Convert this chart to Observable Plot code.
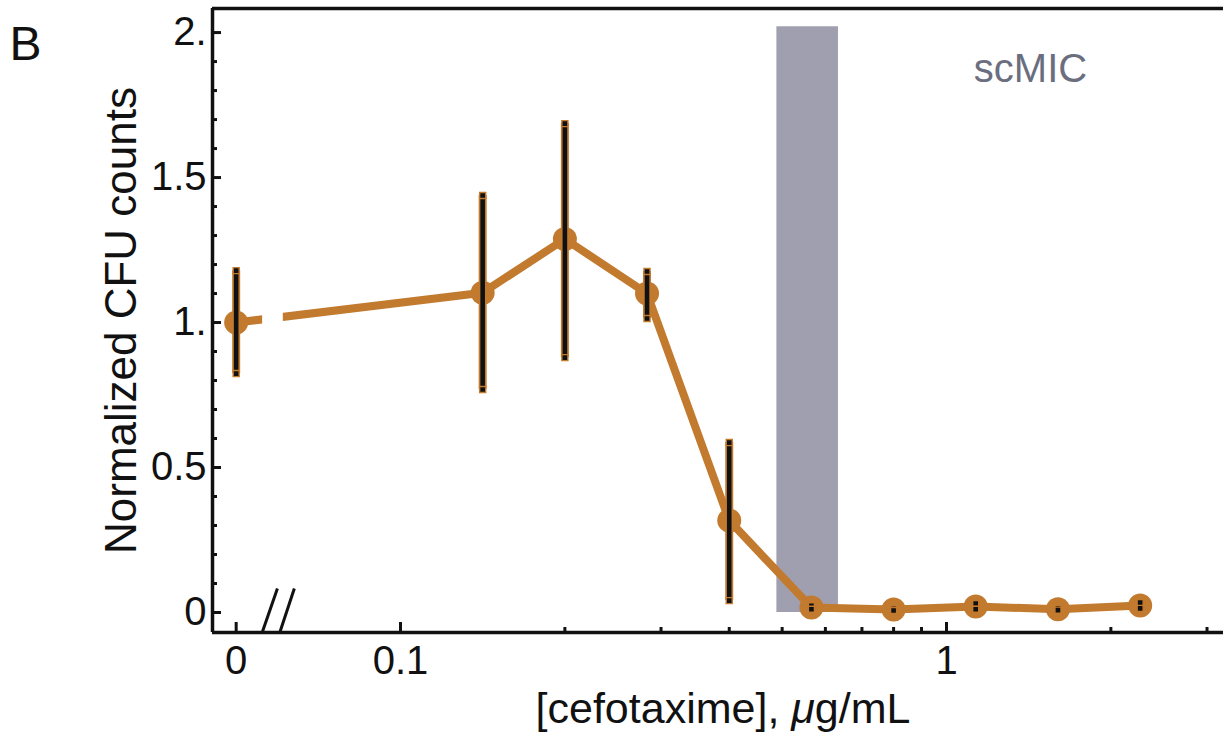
<!DOCTYPE html>
<html>
<head>
<meta charset="utf-8">
<script src="https://cdn.jsdelivr.net/npm/d3@7"></script>
<script src="https://cdn.jsdelivr.net/npm/@observablehq/plot@0.6"></script>
<style>
  html, body { margin: 0; padding: 0; background: #fff; }
  svg { display: block; }
</style>
</head>
<body>
<div id="chart"></div>
<script>
// ---- data ----
const concentration = [0, 0.1414, 0.2, 0.2828, 0.4, 0.5657, 0.8, 1.131, 1.6, 2.263];
const cfuMean = [1.0, 1.103, 1.288, 1.100, 0.317, 0.017, 0.010, 0.021, 0.011, 0.024];
const cfuLow  = [0.824, 0.769, 0.879, 1.014, 0.041, 0.011, 0.007, 0.011, 0.008, 0.014];
const cfuHigh = [1.179, 1.438, 1.686, 1.176, 0.586, 0.023, 0.013, 0.031, 0.014, 0.034];

const scMICRange = [0.489, 0.634];   // shaded scMIC band (µg/mL)
const scMICTop = 2.02;

const zeroAt = 0.05;                  // where "0" sits on the broken log axis
const axisBreak = [0.0559, 0.0610];   // gap in the line / axis-break zone
const breakSlashes = [[0.0558, 0.0595], [0.0601, 0.0639]];
const slashTop = 0.083;

const xTickValues = [0, 0.1, 1];
const xTickLabels = ["0", "0.1", "1"];
const xMinorTicks = [0.2, 0.3, 0.4, 0.5, 0.6, 0.7, 0.8, 0.9, 2, 3];
const yTickValues = [0, 0.5, 1, 1.5, 2];
const yTickLabels = ["0", "0.5", "1.", "1.5", "2."];
const yMinorTicks = [0.1, 0.2, 0.3, 0.4, 0.6, 0.7, 0.8, 0.9, 1.1, 1.2, 1.3, 1.4, 1.6, 1.7, 1.8, 1.9];

const xLabel = "[cefotaxime], μg/mL";
const yLabel = "Normalized CFU counts";
const panelLabel = "B";
const bandLabel = "scMIC";

// ---- build ----
const xPos = c => (c === 0 ? zeroAt : c);
const data = concentration.map((c, i) => ({x: xPos(c), y: cfuMean[i], lo: cfuLow[i], hi: cfuHigh[i]}));
const xTickPos = xTickValues.map(xPos);

const xDomain = [0.04525, 3.216];
const yDomain = [-0.069, 2.083];
const orange = "#c27a2e";
const ink = "#111";
const mid = {textAnchor: "middle", lineAnchor: "middle"};

const chart = Plot.plot({
  width: 1225,
  height: 735,
  marginLeft: 212,
  marginRight: 2,
  marginTop: 8,
  marginBottom: 103,
  x: {type: "log", domain: xDomain, label: null},
  y: {domain: yDomain, label: null},
  style: {fontFamily: "'Liberation Sans', Arial, Helvetica, sans-serif", background: "#fff", color: ink},
  marks: [
    Plot.rect([scMICRange], {x1: d => d[0], x2: d => d[1], y1: 0, y2: scMICTop, fill: "#a09fb0"}),
    Plot.line(data, {x: "x", y: "y", stroke: orange, strokeWidth: 8}),
    Plot.rect([axisBreak], {x1: d => d[0], x2: d => d[1], y1: 0.85, y2: 1.15, fill: "#fff"}),
    Plot.dot(data, {x: "x", y: "y", r: 12, fill: orange}),
    Plot.ruleX(data, {x: "x", y1: "lo", y2: "hi", stroke: orange, strokeWidth: 8}),
    Plot.ruleX(data, {x: "x", y1: "lo", y2: "hi", stroke: ink, strokeWidth: 4.6}),
    Plot.dot(data, {x: "x", y: "hi", symbol: "square", r: 3.4, fill: ink, stroke: orange, strokeWidth: 1.4}),
    Plot.dot(data, {x: "x", y: "lo", symbol: "square", r: 3.4, fill: ink, stroke: orange, strokeWidth: 1.4}),

    // frame lines (left, bottom, top)
    Plot.ruleX([xDomain[0]], {stroke: ink, strokeWidth: 3.5}),
    Plot.ruleY([yDomain[0]], {stroke: ink, strokeWidth: 3.5}),
    Plot.ruleY([yDomain[1]], {stroke: ink, strokeWidth: 3.5}),

    // axis break slashes
    Plot.link(breakSlashes, {x1: d => d[0], x2: d => d[1], y1: yDomain[0], y2: slashTop, stroke: ink, strokeWidth: 3}),

    // inward ticks
    Plot.axisY({ticks: yTickValues, tickSize: -9, tickFormat: () => "", strokeWidth: 3, label: null}),
    Plot.axisY({ticks: yMinorTicks, tickSize: -5, tickFormat: () => "", strokeWidth: 3, label: null}),
    Plot.axisX({ticks: xTickPos, tickSize: -10, tickFormat: () => "", strokeWidth: 3, label: null}),
    Plot.axisX({ticks: xMinorTicks, tickSize: -5, tickFormat: () => "", strokeWidth: 3, label: null}),

    // tick labels
    Plot.axisY({ticks: yTickValues, tickSize: 0, tickPadding: 6, fontSize: 40, fill: ink,
      tickFormat: d => yTickLabels[yTickValues.indexOf(d)], label: null}),
    Plot.axisX({ticks: xTickPos, tickSize: 0, tickPadding: 13, fontSize: 40, fill: ink,
      tickFormat: d => xTickLabels[xTickPos.indexOf(d)], label: null}),

    // axis titles and annotations
    Plot.text([yLabel], {text: d => d, frameAnchor: "left", rotate: -90, dx: -91, fontSize: 44, fill: ink, ...mid}),
    Plot.text([xLabel], {text: d => d, frameAnchor: "bottom", dx: 5, dy: 77, fontSize: 43, fill: ink, ...mid}),
    Plot.text([panelLabel], {text: d => d, frameAnchor: "top-left", dx: -187, dy: 36, fontSize: 48, fill: ink, ...mid}),
    Plot.text([bandLabel], {text: d => d, frameAnchor: "top-right", dx: -193, dy: 61, fontSize: 40, fill: "#6b6e7e", ...mid})
  ]
});

document.getElementById("chart").appendChild(chart);

// italic μ in the x label
d3.select(chart).selectAll("text").each(function () {
  const t = this.textContent;
  if (t === xLabel && !this.querySelector("tspan")) {
    const parts = t.split("μ");
    this.textContent = "";
    const ns = "http://www.w3.org/2000/svg";
    const a = document.createElementNS(ns, "tspan"); a.textContent = parts[0];
    const m = document.createElementNS(ns, "tspan"); m.textContent = "μ"; m.setAttribute("font-style", "italic");
    const b = document.createElementNS(ns, "tspan"); b.textContent = parts[1];
    this.append(a, m, b);
  }
});
</script>
</body>
</html>
